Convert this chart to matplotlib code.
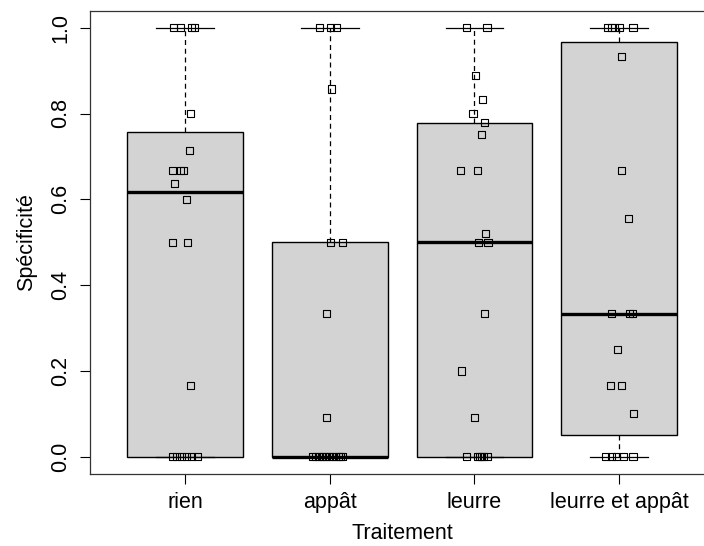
import numpy as np
from matplotlib import pyplot as plt

plt.rcParams['font.family'] = ['Liberation Sans', 'DejaVu Sans']

groupes = ["rien", "appât", "leurre", "leurre et appât"]

# specificite par individu, et decalage horizontal (jitter) de chaque point
rien = [0, 0, 0, 0, 0, 0, 0.167, 0.5, 0.5, 0.6, 0.636,
        0.667, 0.667, 0.667, 0.714, 0.8, 1, 1, 1, 1]
rien_jit = [-0.09, -0.06, -0.025, 0.01, 0.045, 0.085, 0.04, -0.09, 0.014, 0.01, -0.07,
            -0.09, -0.03, -0.01, 0.03, 0.04, -0.08, -0.03, 0.046, 0.062]

appat = [0, 0, 0, 0, 0, 0, 0, 0, 0, 0, 0, 0,
         0.091, 0.333, 0.5, 0.5, 0.857, 1, 1, 1]
appat_jit = [-0.12, -0.1, -0.08, -0.06, -0.04, -0.02, 0.0, 0.02, 0.04, 0.06, 0.075, 0.09,
             -0.025, -0.02, 0.002, 0.09, 0.01, -0.07, 0.005, 0.045]

leurre = [0, 0, 0, 0, 0, 0, 0.091, 0.2, 0.333, 0.5, 0.5, 0.52,
          0.667, 0.667, 0.75, 0.778, 0.8, 0.833, 0.889, 1, 1]
leurre_jit = [-0.055, 0.02, 0.035, 0.05, 0.065, 0.09, 0.0, -0.087, 0.069, 0.025, 0.094, 0.078,
              -0.096, 0.02, 0.046, 0.07, -0.01, 0.057, 0.01, -0.055, 0.087]

leurre_appat = [0, 0, 0, 0, 0, 0.1, 0.167, 0.167, 0.25, 0.333, 0.333, 0.333,
                0.556, 0.667, 0.933, 1, 1, 1, 1, 1]
leurre_appat_jit = [-0.094, -0.053, -0.019, 0.03, 0.096, 0.098, -0.058, 0.016, -0.01,
                    -0.053, 0.073, 0.09, 0.062, 0.016, 0.016, -0.083, -0.055, -0.03, 0.0, 0.096]

donnees = [rien, appat, leurre, leurre_appat]
jitters = [rien_jit, appat_jit, leurre_jit, leurre_appat_jit]


def fivenum(x):
    # charnieres de Tukey, comme boxplot() de R
    x = np.sort(np.asarray(x, dtype=float))
    n = len(x)
    n4 = np.floor((n + 3) / 2) / 2
    d = np.array([1, n4, (n + 1) / 2, n + 1 - n4, n]) - 1
    return 0.5 * (x[np.floor(d).astype(int)] + x[np.ceil(d).astype(int)])


def box_stats(x, label):
    mn, q1, med, q3, mx = fivenum(x)
    iqr = q3 - q1
    x = np.asarray(x)
    lo = x[x >= q1 - 1.5 * iqr].min()
    hi = x[x <= q3 + 1.5 * iqr].max()
    return dict(med=med, q1=q1, q3=q3, whislo=lo, whishi=hi, fliers=[], label=label)


stats = [box_stats(v, g) for v, g in zip(donnees, groupes)]

fig = plt.figure(figsize=(7.04, 5.46), dpi=100)
ax = fig.add_axes([89.6 / 704, 72 / 546, 625 / 704, 463.5 / 546])

pos = np.arange(1, len(groupes) + 1)
ax.bxp(stats, positions=pos, widths=0.8, capwidths=0.4, patch_artist=True,
       showfliers=False,
       boxprops=dict(facecolor='#D3D3D3', edgecolor='black', linewidth=1.0),
       medianprops=dict(color='black', linewidth=2.4, solid_capstyle='butt'),
       whiskerprops=dict(color='black', linewidth=0.9, linestyle=(0, (4, 3))),
       capprops=dict(color='black', linewidth=0.9))

for p, v, j in zip(pos, donnees, jitters):
    ax.scatter(p + np.array(j), v, marker='s', s=26, facecolors='none',
               edgecolors='black', linewidths=0.8, zorder=5)

ax.set_xlim(0.34, 4.66)
ax.set_ylim(-0.04, 1.04)
ax.set_xticks(pos)
ax.set_xticklabels(groupes)
ax.set_yticks(np.arange(0, 1.01, 0.2))
ax.set_yticklabels([f"{t:.1f}" for t in np.arange(0, 1.01, 0.2)], rotation=90, va='center')
ax.tick_params(axis='both', length=7, width=0.8, labelsize=15.5, pad=6)
ax.set_xlabel("Traitement", fontsize=15.5, labelpad=7)
ax.set_ylabel("Spécificité", fontsize=15.5, labelpad=10)
for s in ax.spines.values():
    s.set_linewidth(0.9)
    s.set_color('#333333')

fig.savefig("out.png", dpi=100)
